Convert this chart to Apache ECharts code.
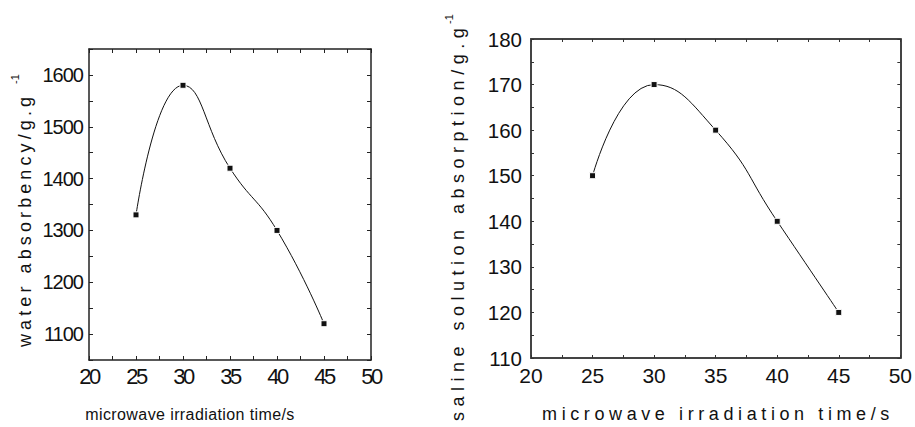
<!DOCTYPE html>
<html><head><meta charset="utf-8">
<script src="https://cdn.jsdelivr.net/npm/echarts@6/dist/echarts.min.js"></script>
<style>html,body{margin:0;padding:0;background:#fff}#c{width:915px;height:427px}</style>
</head><body><div id="c"></div>
<script>
// ---- data ----
const times = [25, 30, 35, 40, 45];
const waterAbsorbency = [1330, 1580, 1420, 1300, 1120];
const salineAbsorption = [150, 170, 160, 140, 120];
const xTicks = [20, 25, 30, 35, 40, 45, 50];
const waterTicks = [1100, 1200, 1300, 1400, 1500, 1600];
const salineTicks = [110, 120, 130, 140, 150, 160, 170, 180];
const xTitle = 'microwave irradiation time/s';
const leftYTitle = 'water absorbency/g.g';
const rightYTitle = 'saline solution absorption/g.g';
const supText = '-1';

const INK = '#111';
const FONT = '"Liberation Sans", Arial, sans-serif';

function boxAxis(extra) {
  return Object.assign({
    type: 'value',
    axisLine: { show: true, onZero: false, lineStyle: { color: '#222', width: 1.5 } },
    axisTick: { show: true, inside: true, length: 4, lineStyle: { color: '#222', width: 1 } },
    splitLine: { show: false },
  }, extra);
}

const option = {
  animation: false,
  backgroundColor: '#fff',
  grid: [
    { left: 89, top: 49, width: 282, height: 311 },
    { left: 531, top: 39, width: 372, height: 319 }
  ],
  xAxis: [
    boxAxis({ gridIndex: 0, position: 'bottom', min: xTicks[0], max: xTicks[xTicks.length-1], interval: 5,
      minorTick: { show: true, splitNumber: 2, length: 4, lineStyle: { color: '#222' } },
      axisLabel: { margin: 5, fontSize: 22, fontFamily: FONT, color: INK,
        formatter: v => xTicks.includes(v) ? String(v) : '' } }),
    boxAxis({ gridIndex: 0, position: 'top', min: xTicks[0], max: xTicks[xTicks.length-1], interval: 5,
      minorTick: { show: true, splitNumber: 2, length: 4, lineStyle: { color: '#222' } },
      axisLabel: { show: false } }),
    boxAxis({ gridIndex: 1, position: 'bottom', min: xTicks[0], max: xTicks[xTicks.length-1], interval: 5,
      minorTick: { show: true, splitNumber: 2, length: 3, lineStyle: { color: '#333' } },
      axisTick: { show: true, inside: true, length: 3, lineStyle: { color: '#333' } },
      axisLine: { show: true, onZero: false, lineStyle: { color: '#444', width: 2 } },
      axisLabel: { margin: 7, fontSize: 21, fontFamily: FONT, color: INK,
        formatter: v => xTicks.includes(v) ? String(v) : '' } }),
    boxAxis({ gridIndex: 1, position: 'top', min: xTicks[0], max: xTicks[xTicks.length-1], interval: 5,
      minorTick: { show: true, splitNumber: 2, length: 3, lineStyle: { color: '#333' } },
      axisTick: { show: true, inside: true, length: 3, lineStyle: { color: '#333' } },
      axisLine: { show: true, onZero: false, lineStyle: { color: '#444', width: 2 } },
      axisLabel: { show: false } })
  ],
  yAxis: [
    boxAxis({ gridIndex: 0, position: 'left', min: 1050, max: 1650, interval: 50,
      axisLabel: { margin: 6, fontSize: 20, fontFamily: FONT, color: INK,
        formatter: v => waterTicks.includes(v) ? String(v) : '' } }),
    boxAxis({ gridIndex: 0, position: 'right', min: 1050, max: 1650, interval: 50,
      axisLabel: { show: false } }),
    boxAxis({ gridIndex: 1, position: 'left', min: salineTicks[0], max: salineTicks[salineTicks.length-1], interval: 10,
      minorTick: { show: true, splitNumber: 2, length: 3, lineStyle: { color: '#333' } },
      axisTick: { show: true, inside: true, length: 3, lineStyle: { color: '#333' } },
      axisLine: { show: true, onZero: false, lineStyle: { color: '#444', width: 2 } },
      axisLabel: { margin: 9, fontSize: 20.5, fontFamily: FONT, color: INK,
        formatter: v => salineTicks.includes(v) ? String(v) : '' } }),
    boxAxis({ gridIndex: 1, position: 'right', min: salineTicks[0], max: salineTicks[salineTicks.length-1], interval: 10,
      minorTick: { show: true, splitNumber: 2, length: 3, lineStyle: { color: '#333' } },
      axisTick: { show: true, inside: true, length: 3, lineStyle: { color: '#333' } },
      axisLine: { show: true, onZero: false, lineStyle: { color: '#444', width: 2 } },
      axisLabel: { show: false } })
  ],
  series: [
    { type: 'line', xAxisIndex: 0, yAxisIndex: 0, smooth: 0.5,
      data: times.map((t, i) => [t, waterAbsorbency[i]]),
      symbol: 'rect', symbolSize: 6,
      itemStyle: { color: '#111', borderColor: '#fff', borderWidth: 1 },
      lineStyle: { color: '#111', width: 1 } },
    { type: 'line', xAxisIndex: 2, yAxisIndex: 2, smooth: 0.5,
      data: times.map((t, i) => [t, salineAbsorption[i]]),
      symbol: 'rect', symbolSize: 6,
      itemStyle: { color: '#111', borderColor: '#fff', borderWidth: 1 },
      lineStyle: { color: '#111', width: 1 } }
  ],
  graphic: [
    { type: 'text', x: 190, y: 414, style: { text: xTitle, font: '16px ' + FONT, fill: INK, align: 'center', verticalAlign: 'middle' } },
    { type: 'text', x: 718, y: 414, style: { text: xTitle, font: '18px ' + FONT, fill: INK, align: 'center', verticalAlign: 'middle' } },
    { type: 'text', x: 25, y: 347, rotation: Math.PI / 2, style: { text: leftYTitle, font: '18px ' + FONT, fill: INK, align: 'left', verticalAlign: 'middle' } },
    { type: 'text', x: 15, y: 84, rotation: Math.PI / 2, style: { text: supText, font: '11px ' + FONT, fill: INK, align: 'left', verticalAlign: 'middle' } },
    { type: 'text', x: 458, y: 421, rotation: Math.PI / 2, style: { text: rightYTitle, font: '18px ' + FONT, fill: INK, align: 'left', verticalAlign: 'middle' } },
    { type: 'text', x: 449, y: 24, rotation: Math.PI / 2, style: { text: supText, font: '11px ' + FONT, fill: INK, align: 'left', verticalAlign: 'middle' } }
  ]
};

const chart = echarts.init(document.getElementById('c'), null, { renderer: 'svg' });
chart.setOption(option);

function applySpacing() {
  const texts = document.querySelectorAll('#c svg text');
  texts.forEach(t => {
    const s = t.textContent;
    const fs = parseFloat(getComputedStyle(t).fontSize);
    let ls = null;
    if (s === leftYTitle) ls = 4.1;
    else if (s === rightYTitle) ls = 5.5;
    else if (s === xTitle) ls = fs >= 18 ? 4.6 : 0.4;
    else if (/^\d+$/.test(s)) {
      if (fs === 20) ls = -1;
      else if (fs === 22) ls = -2.5;
    }
    if (ls !== null) t.setAttribute('letter-spacing', ls);
  });
}
applySpacing();
chart.on('finished', applySpacing);
setTimeout(applySpacing, 50);
</script>
</body></html>
